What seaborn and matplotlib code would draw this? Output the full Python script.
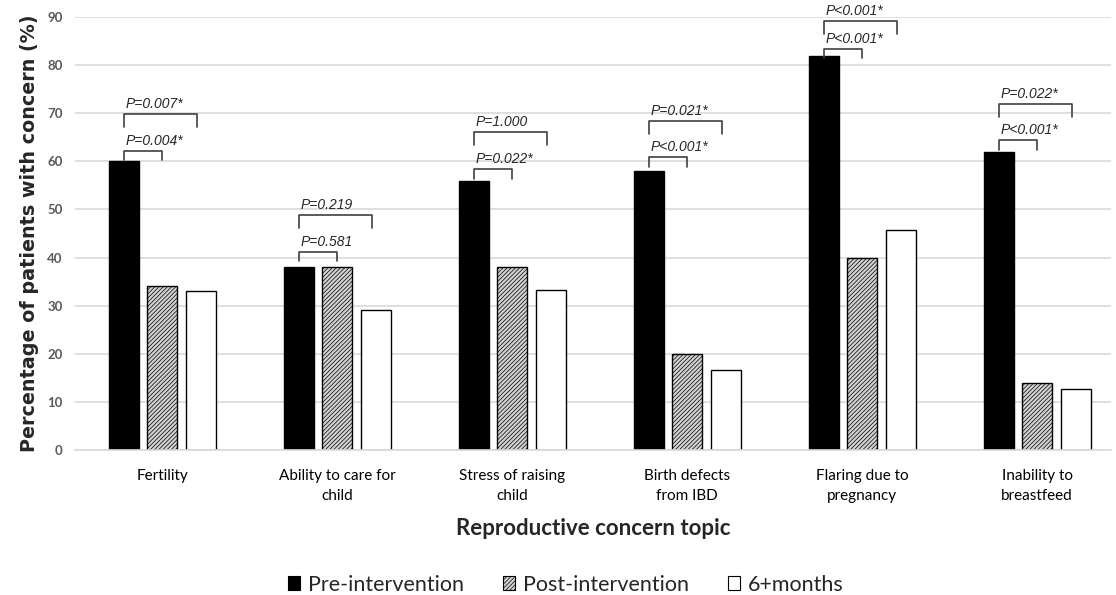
import numpy as np
import pandas as pd
import matplotlib
matplotlib.use("Agg")
import matplotlib.pyplot as plt
from matplotlib.patches import Patch
import seaborn as sns

topics = ["Fertility", "Ability to care for\nchild", "Stress of raising\nchild",
          "Birth defects\nfrom IBD", "Flaring due to\npregnancy", "Inability to\nbreastfeed"]
groups = ["Pre-intervention", "Post-intervention", "6+months"]
pre = [60, 38, 56, 58, 82, 62]
post = [34, 38, 38, 20, 40, 14]
six_months = [33, 29, 33.3, 16.7, 45.8, 12.6]
p_post = ["P=0.004*", "P=0.581", "P=0.022*", "P<0.001*", "P<0.001*", "P<0.001*"]
p_six = ["P=0.007*", "P=0.219", "P=1.000", "P=0.021*", "P<0.001*", "P=0.022*"]

# bracket heights (annotation layout)
low_y = [62.2, 41.2, 58.4, 60.9, 83.4, 64.4]
high_y = [69.9, 48.9, 66.1, 68.4, 89.2, 71.9]

df = pd.DataFrame({
    "topic": np.repeat(topics, 3),
    "group": groups * len(topics),
    "value": np.column_stack([pre, post, six_months]).ravel(),
})

sns.set_style("white")
plt.rcParams["font.family"] = ["Lato", "DejaVu Sans"]
plt.rcParams["hatch.color"] = "#9a9a9a"
plt.rcParams["hatch.linewidth"] = 0.5

fig = plt.figure(figsize=(11.16, 5.95), dpi=100)
ax = fig.add_axes([0.0672, 0.2437, 0.928, 0.7277])

colors = ["black", "#d2d2d2", "white"]
sns.barplot(data=df, x="topic", y="value", hue="group", hue_order=groups,
            order=topics, palette=colors, width=0.66, gap=0.22,
            edgecolor="black", linewidth=1.0, saturation=1, ax=ax, legend=False)

for bar in ax.containers[1]:
    bar.set_hatch("////////")

ax.set_ylim(0, 90)
ax.set_xlim(-0.5, 5.42)
ax.set_yticks(range(0, 91, 10))
ax.yaxis.grid(True, color="#d9d9d9", linewidth=1.2)
ax.set_axisbelow(True)
for s in ["top", "right", "left"]:
    ax.spines[s].set_visible(False)
ax.spines["bottom"].set_color("#d9d9d9")
ax.spines["bottom"].set_linewidth(1.2)
ax.tick_params(axis="y", length=0, labelsize=9.5, labelcolor="#595959", pad=9)
ax.tick_params(axis="x", length=0, labelsize=11, labelcolor="black", pad=14)
for lbl in ax.get_yticklabels():
    lbl.set_fontweight("bold")
for lbl in ax.get_xticklabels():
    lbl.set_linespacing(1.5)

ax.set_xlabel("Reproductive concern topic", fontsize=16, fontweight="bold", labelpad=11)
ax.set_ylabel("Percentage of patients with concern (%)", fontsize=13.8, fontweight="bold",
              family="DejaVu Sans", labelpad=6)

# significance brackets
off = 0.66 / 3
for i in range(len(topics)):
    x0, x1, x2 = i - off, i, i + off
    for xe, yb, txt, tick in [(x1, low_y[i], p_post[i], 2.0), (x2 - 0.02, high_y[i], p_six[i], 2.7)]:
        ax.plot([x0, x0, xe, xe], [yb - tick, yb, yb, yb - tick], color="#404040",
                linewidth=1.2, clip_on=False)
        ax.text(x0 + 0.01, yb + 0.6, txt, fontsize=10, style="italic",
                family="Liberation Sans", ha="left", va="bottom", clip_on=False)

handles = [Patch(facecolor=c, edgecolor="black", linewidth=0.8, label=g,
                 hatch="////////" if g == "Post-intervention" else None)
           for c, g in zip(colors, groups)]
fig.legend(handles=handles, loc="lower center", bbox_to_anchor=(0.507, -0.032),
           ncol=3, frameon=False, fontsize=15.5, handlelength=0.56, handleheight=0.56,
           handletextpad=0.37, columnspacing=1.8)

fig.savefig("out.png", dpi=100)
